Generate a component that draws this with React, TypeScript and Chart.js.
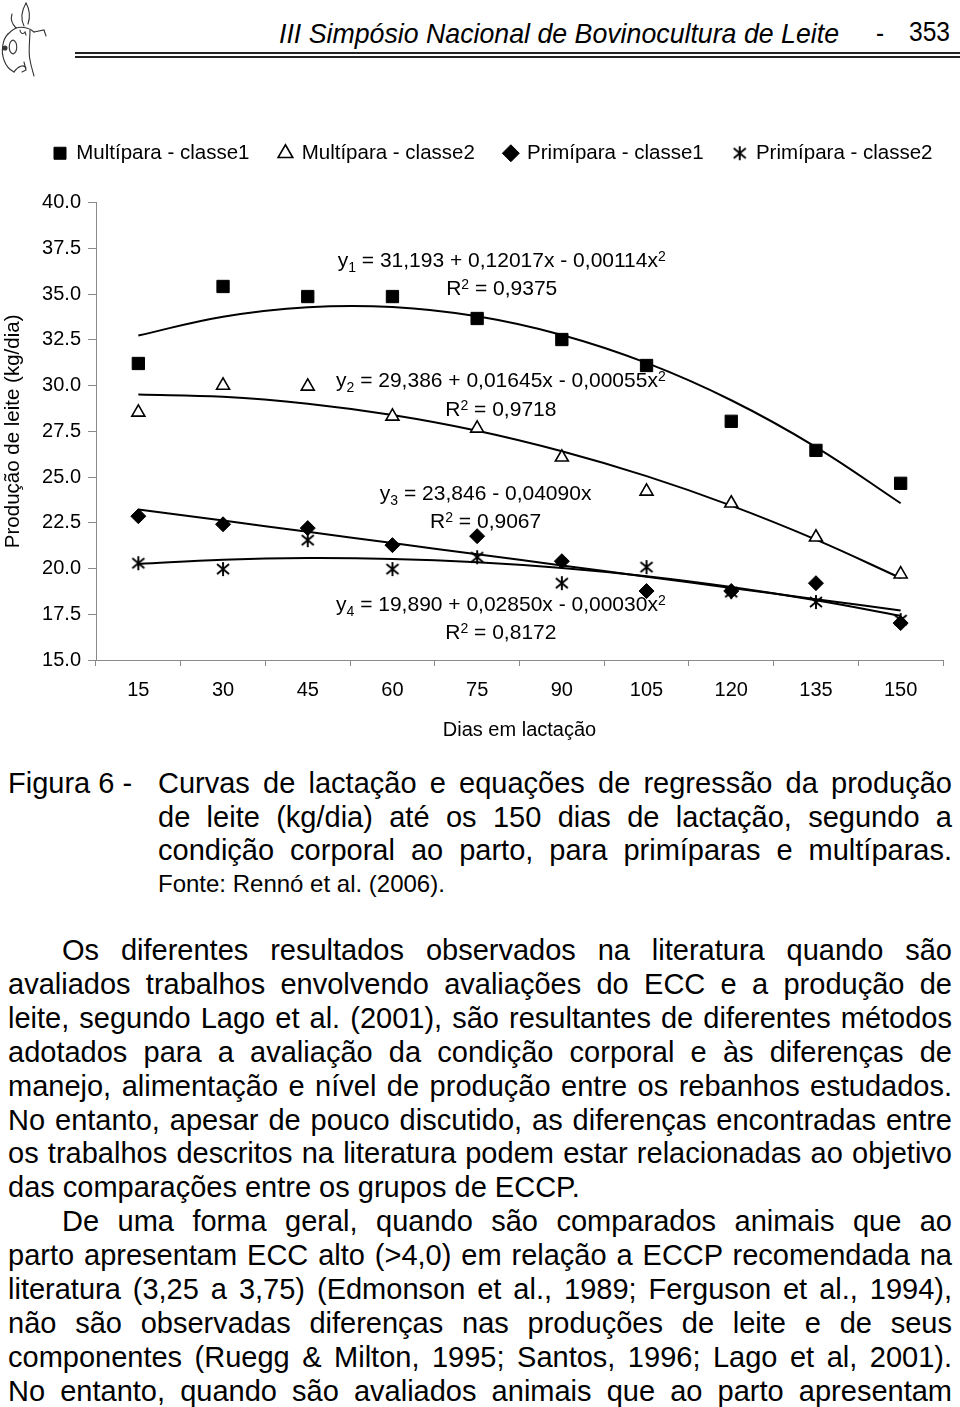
import React, { useEffect, useRef } from "react";
import { Chart, registerables } from "chart.js";

Chart.register(...registerables);

const FONT = "'Liberation Sans', Arial, Helvetica, sans-serif";
Chart.defaults.font.family = FONT;
Chart.defaults.color = "#000";

// ---------- data ----------
const days = ["15", "30", "45", "60", "75", "90", "105", "120", "135", "150"];
const seriesNames = [
  "Multípara - classe1",
  "Multípara - classe2",
  "Primípara - classe1",
  "Primípara - classe2",
];
const multiparaClasse1 = [31.21, 35.42, 34.87, 34.87, 33.67, 32.52, 31.1, 28.05, 26.46, 24.66];
const multiparaClasse2 = [28.54, 30.01, 29.96, 28.32, 27.66, 26.08, 24.22, 23.57, 21.71, 19.69];
const primiparaClasse1 = [22.86, 22.42, 22.21, 21.28, 21.77, 20.4, 18.77, 18.77, 19.2, 17.02];
const primiparaClasse2 = [20.29, 19.97, 21.55, 19.97, 20.62, 19.2, 20.08, 18.71, 18.17, 17.18];
// regression curves
const trend1 = [32.74, 33.77, 34.29, 34.3, 33.79, 32.77, 31.24, 29.2, 26.64, 23.57];
const trend2 = [29.51, 29.39, 29.01, 28.39, 27.53, 26.41, 25.05, 23.44, 21.58, 19.48];
const trend3 = [23.23, 22.62, 22.01, 21.39, 20.78, 20.17, 19.55, 18.94, 18.32, 17.71];
const trend4 = [20.25, 20.48, 20.57, 20.52, 20.34, 20.03, 19.58, 18.99, 18.27, 17.42];
const yMin = 15;
const yMax = 40;
const yStep = 2.5;
const equationBodies = [
  " = 31,193 + 0,12017x - 0,00114x",
  " = 29,386 + 0,01645x - 0,00055x",
  " = 23,846 - 0,04090x",
  " = 19,890 + 0,02850x - 0,00030x",
];
const equationSquared = [true, true, false, true];
const rSquaredValues = ["0,9375", "0,9718", "0,9067", "0,8172"];

// ---------- annotation anchors (category index, y value) ----------
const eqAnchors = [
  { xi: 4.29, eqY: 36.78, rY: 35.25 },
  { xi: 4.28, eqY: 30.23, rY: 28.67 },
  { xi: 4.1, eqY: 24.06, rY: 22.51 },
  { xi: 4.28, eqY: 18.0, rY: 16.45 },
];

type Seg = { t: string; size: number; dy: number };
function drawRich(ctx: CanvasRenderingContext2D, segs: Seg[], cx: number, cy: number) {
  let total = 0;
  const widths = segs.map((s) => {
    ctx.font = `${s.size}px ${FONT}`;
    const w = ctx.measureText(s.t).width;
    total += w;
    return w;
  });
  let x = cx - total / 2;
  segs.forEach((s, i) => {
    ctx.font = `${s.size}px ${FONT}`;
    ctx.fillText(s.t, x, cy + s.dy);
    x += widths[i];
  });
}

const equationPlugin = {
  id: "equations",
  afterDatasetsDraw(chart: any) {
    const { ctx } = chart;
    const xs = chart.scales.x;
    const ys = chart.scales.y;
    ctx.save();
    ctx.fillStyle = "#000";
    ctx.textAlign = "left";
    ctx.textBaseline = "middle";
    eqAnchors.forEach((a, i) => {
      const cx = xs.getPixelForValue(a.xi);
      const eq: Seg[] = [
        { t: "y", size: 21, dy: 0 },
        { t: String(i + 1), size: 14, dy: 7 },
        { t: equationBodies[i], size: 21, dy: 0 },
      ];
      if (equationSquared[i]) eq.push({ t: "2", size: 14, dy: -4 });
      drawRich(ctx, eq, cx, ys.getPixelForValue(a.eqY));
      drawRich(
        ctx,
        [
          { t: "R", size: 21, dy: 0 },
          { t: "2", size: 14, dy: -4 },
          { t: " = " + rSquaredValues[i], size: 21, dy: 0 },
        ],
        cx,
        ys.getPixelForValue(a.rY)
      );
    });
    ctx.restore();
  },
};

function makeAsterisk(): HTMLCanvasElement {
  const c = document.createElement("canvas");
  c.width = 16;
  c.height = 16;
  const g = c.getContext("2d")!;
  g.strokeStyle = "#000";
  g.lineWidth = 1.9;
  g.beginPath();
  g.moveTo(8, 1);
  g.lineTo(8, 15);
  g.moveTo(2, 3);
  g.lineTo(14, 13);
  g.moveTo(14, 3);
  g.lineTo(2, 13);
  g.stroke();
  return c;
}

function LactationChart() {
  const ref = useRef<HTMLCanvasElement>(null);
  useEffect(() => {
    const star = makeAsterisk();
    const trendStyle = {
      showLine: true,
      borderColor: "#000",
      borderWidth: 2,
      pointRadius: 0,
      pointHoverRadius: 0,
      tension: 0.4,
      fill: false,
    };
    const pointBase = { showLine: false, borderColor: "#000", pointBorderColor: "#000" };
    const chart = new Chart(ref.current!, {
      type: "line",
      data: {
        labels: days,
        datasets: [
          {
            ...pointBase,
            label: seriesNames[0],
            data: multiparaClasse1,
            pointStyle: "rect",
            pointRadius: 8.7,
            pointBackgroundColor: "#000",
            pointBorderWidth: 1,
            backgroundColor: "#000",
          },
          {
            ...pointBase,
            label: seriesNames[1],
            data: multiparaClasse2,
            pointStyle: "triangle",
            pointRadius: 7.5,
            pointBackgroundColor: "#fff",
            pointBorderWidth: 1.6,
            backgroundColor: "#fff",
          },
          {
            ...pointBase,
            label: seriesNames[2],
            data: primiparaClasse1,
            pointStyle: "rectRot",
            pointRadius: 7.5,
            pointBackgroundColor: "#000",
            pointBorderWidth: 1,
            backgroundColor: "#000",
          },
          {
            ...pointBase,
            label: seriesNames[3],
            data: primiparaClasse2,
            pointStyle: star as any,
            pointRadius: 8,
            pointBackgroundColor: "#000",
            pointBorderWidth: 1,
            backgroundColor: "#000",
          },
          { ...trendStyle, label: "t1", data: trend1 },
          { ...trendStyle, label: "t2", data: trend2 },
          { ...trendStyle, label: "t3", data: trend3 },
          { ...trendStyle, label: "t4", data: trend4 },
        ] as any,
      },
      options: {
        responsive: false,
        maintainAspectRatio: false,
        animation: false,
        events: [],
        layout: { padding: { left: 24, top: 13, right: 0, bottom: 0 } },
        plugins: {
          legend: {
            display: true,
            position: "top",
            align: "start",
            weight: 3000,
            labels: {
              usePointStyle: true,
              boxWidth: 12,
              boxHeight: 12,
              padding: 30,
              color: "#000",
              font: { size: 20.5, family: FONT },
              filter: (item: any) => item.datasetIndex < 4,
            },
          } as any,
          title: {
            display: true,
            text: "",
            font: { size: 1 },
            padding: { top: 0, bottom: 28 },
          },
          tooltip: { enabled: false },
        },
        scales: {
          x: {
            type: "category",
            offset: true,
            grid: {
              offset: true,
              drawOnChartArea: false,
              drawTicks: true,
              tickLength: 6,
              color: "#8a8a8a",
            },
            border: { color: "#8a8a8a", width: 1 },
            ticks: {
              color: "#000",
              font: { size: 20, family: FONT },
              padding: 12,
              maxRotation: 0,
              autoSkip: false,
            },
            title: {
              display: true,
              text: "Dias em lactação",
              color: "#000",
              font: { size: 20, family: FONT },
              padding: { top: 0, bottom: 18 },
            },
            afterFit: (s: any) => {
              s.height = 100;
            },
          },
          y: {
            type: "linear",
            position: "left",
            min: yMin,
            max: yMax,
            grid: {
              drawOnChartArea: false,
              drawTicks: true,
              tickLength: 8,
              color: "#8a8a8a",
            },
            border: { color: "#8a8a8a", width: 1 },
            ticks: {
              stepSize: yStep,
              color: "#000",
              font: { size: 20, family: FONT },
              padding: 7,
              callback: (v: any) => Number(v).toFixed(1),
            },
            title: {
              display: true,
              text: "Produção de leite (kg/dia)",
              color: "#000",
              font: { size: 20.5, family: FONT },
              padding: { top: -23, bottom: 0 },
            },
            afterFit: (s: any) => {
              s.width = 72;
            },
          },
          yRight: {
            type: "linear",
            axis: "y",
            position: "right",
            display: true,
            ticks: { display: false },
            grid: { display: false, drawTicks: false },
            border: { display: false },
            afterFit: (s: any) => {
              s.width = 57;
            },
          },
        } as any,
      },
      plugins: [equationPlugin],
    });
    return () => chart.destroy();
  }, []);
  return <canvas ref={ref} width={1000} height={660} style={{ display: "block" }} />;
}

// ---------- page text ----------
const captionLines = [
  "Curvas de lactação e equações de regressão da produção",
  "de leite (kg/dia) até os 150 dias de lactação, segundo a",
  "condição corporal ao parto, para primíparas e multíparas.",
];
const bodyLines = [
  { t: "Os diferentes resultados observados na literatura quando são", indent: true, j: true },
  { t: "avaliados trabalhos envolvendo avaliações do ECC e a produção de", indent: false, j: true },
  { t: "leite, segundo Lago et al. (2001), são resultantes de diferentes métodos", indent: false, j: true },
  { t: "adotados para a avaliação da condição corporal e às diferenças de", indent: false, j: true },
  { t: "manejo, alimentação e nível de produção entre os rebanhos estudados.", indent: false, j: true },
  { t: "No entanto, apesar de pouco discutido, as diferenças encontradas entre", indent: false, j: true },
  { t: "os trabalhos descritos na literatura podem estar relacionadas ao objetivo", indent: false, j: true },
  { t: "das comparações entre os grupos de ECCP.", indent: false, j: false },
  { t: "De uma forma geral, quando são comparados animais que ao", indent: true, j: true },
  { t: "parto apresentam ECC alto (>4,0) em relação a ECCP recomendada na", indent: false, j: true },
  { t: "literatura (3,25 a 3,75) (Edmonson et al., 1989; Ferguson et al., 1994),", indent: false, j: true },
  { t: "não são observadas diferenças nas produções de leite e de seus", indent: false, j: true },
  { t: "componentes (Ruegg & Milton, 1995; Santos, 1996; Lago et al, 2001).", indent: false, j: true },
  { t: "No entanto, quando são avaliados animais que ao parto apresentam", indent: false, j: true },
];

function TextLine(props: {
  text: string;
  left: number;
  width: number;
  top: number;
  size: number;
  justify: boolean;
  indent?: number;
}) {
  const { text, left, width, top, size, justify, indent = 0 } = props;
  return (
    <div
      style={{
        position: "absolute",
        left,
        top,
        width,
        height: 34,
        lineHeight: "34px",
        fontSize: size,
        whiteSpace: "nowrap",
        textAlign: justify ? "justify" : "left",
        textAlignLast: justify ? "justify" : "left",
        paddingLeft: indent,
        boxSizing: "border-box",
        color: "#000",
      } as any}
    >
      {text}
    </div>
  );
}

function FitText(props: { text: string; left: number; top: number; width: number; style: any }) {
  const ref = useRef<HTMLSpanElement>(null);
  useEffect(() => {
    const el = ref.current!;
    const w = el.getBoundingClientRect().width;
    if (w > 0) {
      el.style.transform = `scaleX(${props.width / w})`;
    }
  }, []);
  return (
    <span
      ref={ref}
      style={{
        position: "absolute",
        left: props.left,
        top: props.top,
        whiteSpace: "nowrap",
        transformOrigin: "0 0",
        ...props.style,
      }}
    >
      {props.text}
    </span>
  );
}

function Cow() {
  return (
    <svg width={80} height={80} style={{ position: "absolute", left: 0, top: 0 }} viewBox="0 0 80 80">
      <g fill="none" stroke="#333" strokeWidth={1.1} strokeLinecap="round">
        <path d="M26 3 C22 10 20 18 24 26" />
        <path d="M26 3 C30 10 30 18 28 24" />
        <path d="M12 14 C10 20 12 24 16 28" />
        <path d="M8 34 C2 40 1 52 4 60 C6 66 10 70 14 72" />
        <path d="M16 28 C22 26 30 28 34 32" />
        <path d="M34 32 L44 30 L46 36" />
        <path d="M30 30 C30 40 28 52 30 60 C31 66 33 72 34 76" />
        <path d="M8 34 C12 30 14 29 16 28" />
        <path d="M13 40 C18 42 18 52 13 54 C8 52 8 42 13 40" />
        <circle cx={5} cy={48} r={2} fill="#333" />
        <path d="M20 30 C20 33 23 35 25 32 L26 35" />
        <path d="M14 72 C18 66 24 64 26 68" />
        <path d="M24 62 L26 70 L22 72" />
      </g>
    </svg>
  );
}

export default function App() {
  const bodyTop0 = 933;
  const bodyStep = 33.9;
  const capTop0 = 766;
  const capStep = 33.7;
  return (
    <div
      style={{
        position: "relative",
        width: 960,
        height: 1407,
        overflow: "hidden",
        background: "#fff",
        fontFamily: FONT,
        color: "#000",
      }}
    >
      <style>{"html,body{margin:0;padding:0;overflow:hidden;background:#fff}"}</style>
      <Cow />
      <FitText
        text="III Simpósio Nacional de Bovinocultura de Leite"
        left={279}
        top={18}
        width={560}
        style={{ fontSize: 28, fontStyle: "italic", lineHeight: "31px" }}
      />
      <FitText text="-" left={876} top={18} width={8} style={{ fontSize: 27, lineHeight: "31px" }} />
      <FitText text="353" left={909} top={16} width={41} style={{ fontSize: 28, lineHeight: "31px" }} />
      <div style={{ position: "absolute", left: 75, right: 0, top: 52, height: 2, background: "#222" }} />
      <div style={{ position: "absolute", left: 75, right: 0, top: 56, height: 1.5, background: "#222" }} />

      <div style={{ position: "absolute", left: 0, top: 100, width: 960, height: 660, overflow: "hidden" }}>
        <LactationChart />
      </div>

      <TextLine text="Figura 6 -" left={8} width={150} top={capTop0} size={29} justify={false} />
      {captionLines.map((t, i) => (
        <TextLine key={"c" + i} text={t} left={158} width={794} top={capTop0 + i * capStep} size={29} justify={true} />
      ))}
      <TextLine text="Fonte: Rennó et al. (2006)." left={158} width={794} top={867} size={24} justify={false} />

      {bodyLines.map((l, i) => (
        <TextLine
          key={"b" + i}
          text={l.t}
          left={8}
          width={944}
          top={bodyTop0 + i * bodyStep}
          size={29}
          justify={l.j}
          indent={l.indent ? 54 : 0}
        />
      ))}
    </div>
  );
}
